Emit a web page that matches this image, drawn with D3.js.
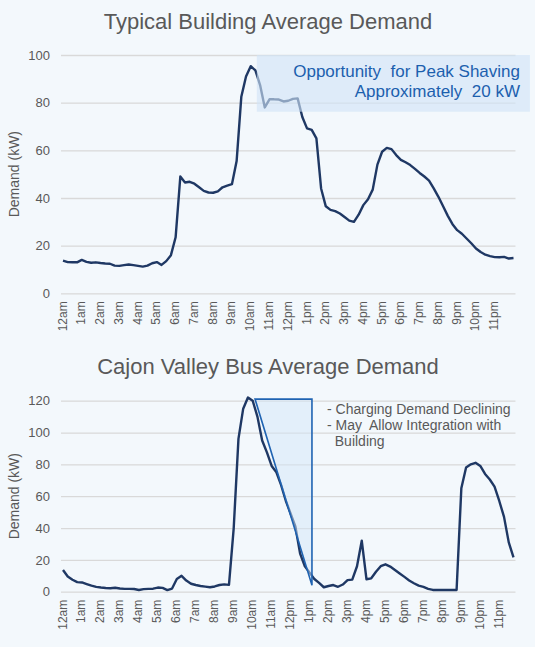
<!DOCTYPE html>
<html>
<head>
<meta charset="utf-8">
<script src="https://cdn.jsdelivr.net/npm/d3@7"></script>
<style>
  body { margin: 0; background: #ffffff; }
  svg { display: block; font-family: "Liberation Sans", Arial, sans-serif; }
</style>
</head>
<body>
<div id="chart-wrapper"></div>
<script>
// hour labels, one per 4 quarter-hour points
const hourLabels = ["12am","1am","2am","3am","4am","5am","6am","7am","8am","9am","10am","11am",
    "12pm","1pm","2pm","3pm","4pm","5pm","6pm","7pm","8pm","9pm","10pm","11pm"];

// 15 min demand, kW
const buildingDemand = [
    13.7, 13.1, 13.0, 13.0, 14.0, 13.2, 12.8, 13.0, 12.7, 12.5, 12.4, 11.6,
    11.5, 11.8, 12.1, 11.8, 11.5, 11.2, 11.6, 12.6, 13.1, 11.9, 13.5, 16.0,
    23.5, 49.0, 46.5, 46.8, 46.0, 44.5, 43.0, 42.3, 42.2, 42.8, 44.5, 45.2,
    45.8, 55.5, 82.5, 91.0, 95.3, 93.5, 87.4, 78.0, 81.4, 81.4, 81.3, 80.5,
    80.8, 81.6, 81.8, 74.0, 69.2, 68.6, 65.0, 44.0, 36.5, 35.0, 34.5, 33.5,
    32.0, 30.5, 30.0, 33.0, 37.0, 39.5, 43.5, 54.0, 59.4, 61.0, 60.5, 58.0,
    56.0, 55.0, 53.8, 52.2, 50.5, 49.0, 47.3, 44.0, 40.5, 36.5, 32.5, 29.0,
    26.5, 25.0, 23.0, 21.0, 18.8, 17.3, 16.2, 15.6, 15.2, 15.1, 15.3, 14.6, 14.8
];
const busDemand = [
    13.6, 9.5, 7.5, 6.0, 5.8, 4.8, 3.8, 3.0, 2.6, 2.3, 2.2, 2.5,
    2.0, 1.8, 1.8, 1.7, 1.1, 1.6, 1.8, 1.9, 2.6, 2.4, 1.0, 2.0,
    8.0, 10.0, 7.0, 5.0, 4.2, 3.6, 3.2, 2.8, 3.3, 4.2, 4.6, 4.3,
    40.0, 96.0, 115.0, 122.0, 120.0, 110.0, 95.0, 87.5, 79.0, 75.0, 67.0, 57.0,
    49.0, 41.0, 24.0, 16.0, 12.0, 8.0, 5.5, 2.8, 3.6, 4.2, 3.1, 4.5,
    7.3, 7.6, 16.0, 32.0, 7.8, 8.4, 12.5, 16.0, 17.2, 15.8, 13.6, 11.5,
    9.3, 7.0, 5.3, 3.8, 3.0, 1.8, 1.1, 1.1, 1.1, 1.1, 1.1, 1.1,
    65.0, 78.0, 80.0, 81.0, 79.0, 74.0, 70.5, 66.0, 57.0, 47.0, 31.0, 21.6
];

const buildingTicks = [0, 20, 40, 60, 80, 100];
const busTicks = [0, 20, 40, 60, 80, 100, 120];

// annotations in data units: [point index, kW]
const shavingBox = [[41.3, 76.2], [99.5, 100]];
const decliningArea = [[40.5, 121], [52.5, 121], [52.5, 4]];
const shavingText = ["Opportunity  for Peak Shaving", "Approximately  20 kW"];
const decliningText = ["- Charging Demand Declining", "- May  Allow Integration with", "  Building"];

class DemandChart {
    constructor(svg, opts){
        this.svg = svg;
        this.opts = opts;
        this.size = { "left": 61, "right": 515.5, "first": 63, "last": 513.5 };
        this.data;
    }

    setData(data){ this.data = data; }

    drawChart(){
        let o = this.opts;
        this.g = this.svg.append("g");
        this.x = d3.scaleLinear().domain([0, this.data.length - 1]).range([this.size.first, this.size.last]);
        this.y = d3.scaleLinear().domain([0, o.max]).range([o.bottom, o.top]);

        this.addTitle();
        this.addAxes();
        this.addLine();
    }

    addTitle(){
        this.g.append("text")
            .attr("x", 268).attr("y", this.opts.titleY)
            .attr("text-anchor", "middle")
            .attr("font-size", 22).attr("fill", "#595959")
            .text(this.opts.title);
    }

    addAxes(){
        let yAxis = d3.axisLeft(this.y)
            .tickValues(this.opts.ticks)
            .tickSize(-(this.size.right - this.size.left))
            .tickPadding(11);
        let ya = this.g.append("g")
            .attr("transform", `translate(${this.size.left},0)`)
            .call(yAxis);
        ya.select(".domain").remove();
        ya.selectAll("line").attr("stroke", "#d9d9d9").attr("stroke-width", 1.3);
        ya.selectAll("text").attr("fill", "#595959").attr("font-size", 13)
            .attr("font-family", "Liberation Sans, Arial, sans-serif");

        this.g.append("text")
            .attr("transform", `translate(19,${(this.opts.top + this.opts.bottom) / 2}) rotate(-90)`)
            .attr("text-anchor", "middle")
            .attr("font-size", 14).attr("fill", "#595959")
            .text("Demand (kW)");

        this.g.append("g")
            .selectAll("text")
            .data(hourLabels)
            .join("text")
            .attr("transform", (d, i) => `translate(${this.x(i * 4) + 3.5},${this.opts.bottom + 8}) rotate(-90)`)
            .attr("text-anchor", "end")
            .attr("font-size", 12).attr("fill", "#595959")
            .text(d => d);
    }

    addLine(){
        let line = d3.line()
            .x((d, i) => this.x(i))
            .y(d => this.y(d));
        this.g.append("path")
            .datum(this.data)
            .attr("d", line)
            .attr("fill", "none")
            .attr("stroke", "#1f3864")
            .attr("stroke-width", 2.4)
            .attr("stroke-linejoin", "round");
    }

    addBox(box, lines){
        this.g.append("rect")
            .attr("x", this.x(box[0][0]))
            .attr("y", this.y(box[1][1]))
            .attr("width", this.x(box[1][0]) - this.x(box[0][0]))
            .attr("height", this.y(box[0][1]) - this.y(box[1][1]))
            .attr("fill", "#d0e3f7")
            .attr("opacity", 0.62);
        this.g.append("g")
            .selectAll("text")
            .data(lines)
            .join("text")
            .attr("x", 520)
            .attr("y", (d, i) => 77 + i * 20)
            .attr("text-anchor", "end")
            .attr("font-size", 17).attr("fill", "#1c5fae")
            .style("white-space", "pre")
            .text(d => d);
    }

    addTriangle(points, lines){
        this.g.append("path")
            .datum(points)
            .attr("d", d3.line().x(d => this.x(d[0])).y(d => this.y(d[1])).curve(d3.curveLinearClosed))
            .attr("fill", "#d3e5f8")
            .attr("fill-opacity", 0.5)
            .attr("stroke", "#1f63b2")
            .attr("stroke-width", 1.6);
        this.g.append("g")
            .selectAll("text")
            .data(lines)
            .join("text")
            .attr("x", 327)
            .attr("y", (d, i) => 414 + i * 16)
            .attr("font-size", 14).attr("fill", "#595959")
            .style("white-space", "pre")
            .text(d => d);
    }
}

let svg = d3.select("#chart-wrapper")
    .append("svg")
    .attr("width", 540)
    .attr("height", 652);

svg.append("rect")
    .attr("width", 535).attr("height", 647)
    .attr("fill", "#f3f8fc");

let buildingChart = new DemandChart(svg, { title: "Typical Building Average Demand", titleY: 29, max: 100, top: 55, bottom: 293.3, ticks: buildingTicks });
buildingChart.setData(buildingDemand);
buildingChart.drawChart();
buildingChart.addBox(shavingBox, shavingText);

let busChart = new DemandChart(svg, { title: "Cajon Valley Bus Average Demand", titleY: 374, max: 120, top: 400.7, bottom: 591.7, ticks: busTicks });
busChart.setData(busDemand);
busChart.drawChart();
busChart.addTriangle(decliningArea, decliningText);
</script>
</body>
</html>
